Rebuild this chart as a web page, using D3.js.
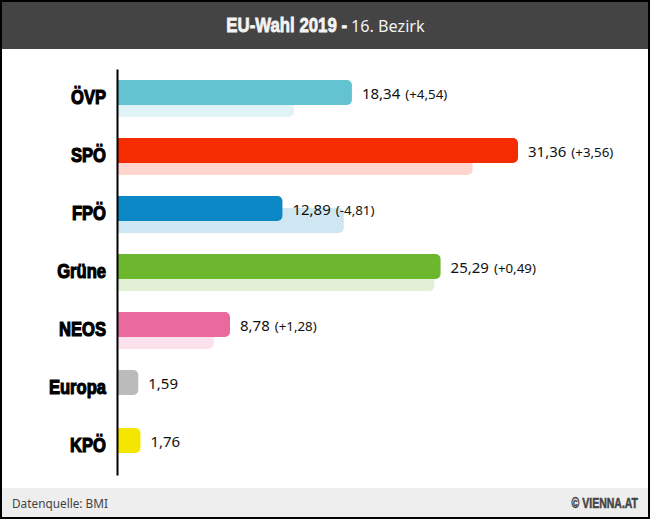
<!DOCTYPE html>
<html>
<head>
<meta charset="utf-8">
<script src="https://cdn.jsdelivr.net/npm/d3@7"></script>
<style>
html, body { margin: 0; padding: 0; background: #fff; }
svg { display: block; }
</style>
</head>
<body>
<svg class="chart"></svg>
<script>
const parties = ['ÖVP', 'SPÖ', 'FPÖ', 'Grüne', 'NEOS', 'Europa', 'KPÖ']
const results = [18.34, 31.36, 12.89, 25.29, 8.78, 1.59, 1.76]
const previous = [13.8, 27.8, 17.7, 24.8, 7.5, null, null]
const changes = ['+4,54', '+3,56', '-4,81', '+0,49', '+1,28', null, null]
const colors = ['#63c3d1', '#f42c00', '#0a87c4', '#6db72f', '#ea6aa0', '#bbbbbb', '#f5e600']

const [width, height] = [650, 519]
const comma = d3.format('.2f')
const label = v => comma(v).replace('.', ',')

// no condensed heavy font installed, so squeeze Liberation Sans Bold
const heavy = '"Liberation Sans"'

const svg = d3.select('svg.chart')
	.attr('width', width)
	.attr('height', height)
	.attr('viewBox', `0 0 ${width} ${height}`)

const x = d3.scaleLinear().domain([0, 31.36]).range([118, 518])
const y = d3.scaleBand().domain(parties).range([69, 475])
	.paddingInner(0.362).paddingOuter(0.181).align(0.524)

const rows = parties.map((party, i) => ({
	party,
	value: results[i],
	prev: previous[i],
	change: changes[i],
	color: colors[i],
}))

// header + footer
svg.append('rect').attr('width', width).attr('height', 49).attr('fill', '#444444')
svg.append('rect').attr('y', 488).attr('width', width).attr('height', 31).attr('fill', '#eeeeee')

svg.append('text')
	.attr('transform', 'translate(347,32) scale(0.8,1)')
	.attr('text-anchor', 'end')
	.attr('font-family', heavy)
	.attr('font-weight', 700)
	.attr('font-size', 21)
	.attr('fill', '#f4f4f4')
	.attr('stroke', '#f4f4f4')
	.attr('stroke-width', 0.8)
	.text('EU-Wahl 2019 -')

svg.append('text')
	.attr('x', 351)
	.attr('y', 32)
	.attr('font-family', '"Noto Sans"')
	.attr('font-size', 16.2)
	.attr('fill', '#f2f2f2')
	.text('16. Bezirk')

svg.append('text')
	.attr('x', 12)
	.attr('y', 508)
	.attr('font-family', '"Noto Sans"')
	.attr('font-size', 11.8)
	.attr('fill', '#444444')
	.text('Datenquelle: BMI')

svg.append('text')
	.attr('transform', 'translate(638,508) scale(0.75,1)')
	.attr('text-anchor', 'end')
	.attr('font-family', heavy)
	.attr('font-weight', 700)
	.attr('font-size', 14)
	.attr('fill', '#444444')
	.attr('stroke', '#444444')
	.attr('stroke-width', 0.5)
	.text('© VIENNA.AT')

// ghost bars sit behind the current ones, 12px lower
svg.append('g').selectAll('path')
		.data(rows.filter(d => d.prev !== null))
	.enter().append('path')
		.attr('d', d => roundedRight(x(0), y(d.party) + 12, x(d.prev) - x(0), 25, 5))
		.attr('fill', d => d.color)
		.attr('fill-opacity', 0.2)

svg.append('g').selectAll('path')
		.data(rows)
	.enter().append('path')
		.attr('d', d => roundedRight(x(0), y(d.party), x(d.value) - x(0), 25, 5))
		.attr('fill', d => d.color)

const values = svg.append('g').selectAll('text')
		.data(rows)
	.enter().append('text')
		.attr('x', d => x(d.value) + 10)
		.attr('y', d => y(d.party) + 18.5)
		.attr('font-family', '"Noto Sans"')
		.attr('fill', '#111')
values.append('tspan')
	.attr('font-size', 15)
	.text(d => label(d.value))
values.filter(d => d.change).append('tspan')
	.attr('font-size', 13.3)
	.attr('dx', 5)
	.text(d => `(${d.change})`)

const axis = svg.append('g')
	.attr('transform', `translate(${x(0) - 1},0)`)
	.call(d3.axisLeft(y).tickSize(0).tickPadding(0))
axis.select('.domain').attr('stroke', '#000').attr('stroke-width', 2)
axis.selectAll('text')
	.attr('transform', 'scale(0.79,1)')
	.attr('x', -11 / 0.79)
	.attr('dy', 5.5)
	.attr('font-family', heavy)
	.attr('font-weight', 700)
	.attr('font-size', 21)
	.attr('fill', '#000')
	.attr('stroke', '#000')
	.attr('stroke-width', 1.2)

// frame
svg.append('rect')
	.attr('x', 1).attr('y', 1)
	.attr('width', width - 2).attr('height', height - 2)
	.attr('fill', 'none')
	.attr('stroke', '#000')
	.attr('stroke-width', 2)

function roundedRight(x0, y0, w, h, r) {
	const p = d3.path()
	p.moveTo(x0, y0)
	p.lineTo(x0 + w - r, y0)
	p.arcTo(x0 + w, y0, x0 + w, y0 + r, r)
	p.lineTo(x0 + w, y0 + h - r)
	p.arcTo(x0 + w, y0 + h, x0 + w - r, y0 + h, r)
	p.lineTo(x0, y0 + h)
	p.closePath()
	return p.toString()
}
</script>
</body>
</html>
